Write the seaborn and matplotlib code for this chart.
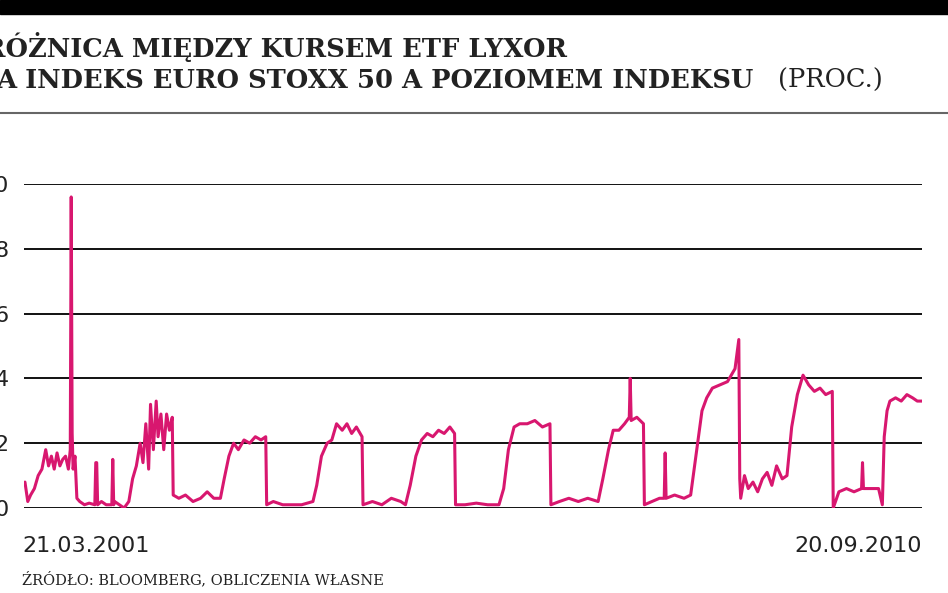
import matplotlib
matplotlib.use("Agg")
import matplotlib.pyplot as plt
import seaborn as sns
import pandas as pd

# decimal year, spread value (%)
years = [2001.22, 2001.25, 2001.28, 2001.32, 2001.36, 2001.40, 2001.44, 2001.47, 2001.50, 2001.53, 2001.56, 2001.59, 2001.62, 2001.65, 2001.68, 2001.70, 2001.71, 2001.72, 2001.73, 2001.75, 2001.77,
         2001.80, 2001.85, 2001.90, 2001.96, 2001.97, 2001.98, 2001.99, 2002.03, 2002.08, 2002.14, 2002.15, 2002.16, 2002.17, 2002.22, 2002.27, 2002.32,
         2002.36, 2002.40, 2002.44, 2002.47, 2002.50, 2002.53, 2002.55, 2002.58, 2002.61, 2002.63, 2002.66, 2002.69, 2002.72, 2002.75, 2002.78, 2002.79,
         2002.85, 2002.92, 2003.00, 2003.08, 2003.15, 2003.22, 2003.29, 2003.33, 2003.38, 2003.43, 2003.48, 2003.54, 2003.60, 2003.66, 2003.72, 2003.77, 2003.78,
         2003.85, 2003.95, 2004.05, 2004.15, 2004.27, 2004.31, 2004.36, 2004.42, 2004.47, 2004.52, 2004.58, 2004.63, 2004.68, 2004.73, 2004.79, 2004.80,
         2004.90, 2005.00, 2005.10, 2005.20, 2005.25, 2005.30, 2005.36, 2005.42, 2005.48, 2005.54, 2005.60, 2005.66, 2005.72, 2005.77, 2005.78,
         2005.88, 2006.00, 2006.12, 2006.24, 2006.29, 2006.34, 2006.40, 2006.46, 2006.54, 2006.62, 2006.70, 2006.78, 2006.79,
         2006.88, 2006.98, 2007.08, 2007.18, 2007.29, 2007.34, 2007.40, 2007.45, 2007.51, 2007.57, 2007.62, 2007.63, 2007.64, 2007.70, 2007.77, 2007.78,
         2007.86, 2007.94, 2007.99, 2008.00, 2008.01, 2008.10, 2008.20, 2008.27, 2008.33, 2008.39, 2008.44, 2008.50, 2008.58, 2008.66, 2008.74, 2008.78, 2008.79, 2008.80,
         2008.84, 2008.88, 2008.93, 2008.98, 2009.03, 2009.08, 2009.13, 2009.18, 2009.24, 2009.29, 2009.34, 2009.40, 2009.46, 2009.52, 2009.58, 2009.64, 2009.70, 2009.77, 2009.78,
         2009.84, 2009.92, 2010.00, 2010.08, 2010.09, 2010.10, 2010.18, 2010.26, 2010.30, 2010.32, 2010.35, 2010.38, 2010.44, 2010.50, 2010.56, 2010.62, 2010.67, 2010.72]
values = [0.8, 0.2, 0.4, 0.6, 1.0, 1.2, 1.8, 1.3, 1.6, 1.2, 1.7, 1.3, 1.5, 1.6, 1.2, 1.8, 9.6, 2.3, 1.2, 1.6, 0.3,
          0.2, 0.1, 0.15, 0.1, 1.4, 1.4, 0.1, 0.2, 0.1, 0.1, 1.5, 0.1, 0.2, 0.1, 0.0, 0.2,
          0.9, 1.3, 2.0, 1.4, 2.6, 1.2, 3.2, 1.8, 3.3, 2.2, 2.9, 1.8, 2.9, 2.4, 2.8, 0.4,
          0.3, 0.4, 0.2, 0.3, 0.5, 0.3, 0.3, 0.9, 1.6, 2.0, 1.8, 2.1, 2.0, 2.2, 2.1, 2.2, 0.1,
          0.2, 0.1, 0.1, 0.1, 0.2, 0.7, 1.6, 2.0, 2.1, 2.6, 2.4, 2.6, 2.3, 2.5, 2.2, 0.1,
          0.2, 0.1, 0.3, 0.2, 0.1, 0.7, 1.6, 2.1, 2.3, 2.2, 2.4, 2.3, 2.5, 2.3, 0.1,
          0.1, 0.15, 0.1, 0.1, 0.6, 1.8, 2.5, 2.6, 2.6, 2.7, 2.5, 2.6, 0.1,
          0.2, 0.3, 0.2, 0.3, 0.2, 0.9, 1.8, 2.4, 2.4, 2.6, 2.8, 4.0, 2.7, 2.8, 2.6, 0.1,
          0.2, 0.3, 0.3, 1.7, 0.3, 0.4, 0.3, 0.4, 1.7, 3.0, 3.4, 3.7, 3.8, 3.9, 4.3, 5.2, 0.9, 0.3,
          1.0, 0.6, 0.8, 0.5, 0.9, 1.1, 0.7, 1.3, 0.9, 1.0, 2.5, 3.5, 4.1, 3.8, 3.6, 3.7, 3.5, 3.6, 0.0,
          0.5, 0.6, 0.5, 0.6, 1.4, 0.6, 0.6, 0.6, 0.1, 2.2, 3.0, 3.3, 3.4, 3.3, 3.5, 3.4, 3.3, 3.3]
y_ticks = [0, 2, 4, 6, 8, 10]
start_label = "21.03.2001"
end_label = "20.09.2010"

df = pd.DataFrame({"year": years, "value": values})

sns.set_theme(style="white")
plt.rcParams['font.family'] = ['DejaVu Sans']
fig = plt.figure(figsize=(9.48, 5.93), dpi=100)
W, H = 948, 593
ax = fig.add_axes([24 / W, 1 - 508 / H, (922 - 24) / W, (508 - 184) / H])
sns.lineplot(data=df, x="year", y="value", ax=ax, color="#d8176f", linewidth=2.2)
ax.set_xlim(2001.21, 2010.72)
ax.set_ylim(0, 10)
ax.set_yticks(y_ticks)
for t in y_ticks:
    ax.axhline(t, color="#111111", lw=1.4, zorder=0)
for s in ax.spines.values():
    s.set_visible(False)
ax.set_xticks([])
ax.set_xlabel("")
ax.set_ylabel("")
ax.tick_params(axis="y", length=0, pad=11, labelsize=16, labelcolor="#222222")

fig.patches.append(plt.Rectangle((0, 1 - 14 / H), 1, 14 / H, transform=fig.transFigure, color="black"))
fig.lines.append(plt.Line2D([0, 1], [1 - 113 / H, 1 - 113 / H], transform=fig.transFigure, color="#666666", lw=1.5))
serif = "DejaVu Serif"
fig.text(-16 / W, 1 - 47 / H, "RÓŻNICA MIĘDZY KURSEM ETF LYXOR", family=serif, weight="bold", fontsize=18.5, va="center", color="#222222")
fig.text(-4 / W, 1 - 80 / H, "A INDEKS EURO STOXX 50 A POZIOMEM INDEKSU", family=serif, weight="bold", fontsize=18.5, va="center", color="#222222")
fig.text(778 / W, 1 - 80 / H, "(PROC.)", family=serif, fontsize=18.5, va="center", color="#222222")
fig.text(22 / W, 1 - 546 / H, start_label, fontsize=16, va="center", color="#222222")
fig.text(922 / W, 1 - 546 / H, end_label, fontsize=16, va="center", ha="right", color="#222222")
fig.text(22 / W, 1 - 579 / H, "ŹRÓDŁO: BLOOMBERG, OBLICZENIA WŁASNE", family=serif, fontsize=10.5, va="center", color="#222222")
fig.savefig("out.png", dpi=100)
